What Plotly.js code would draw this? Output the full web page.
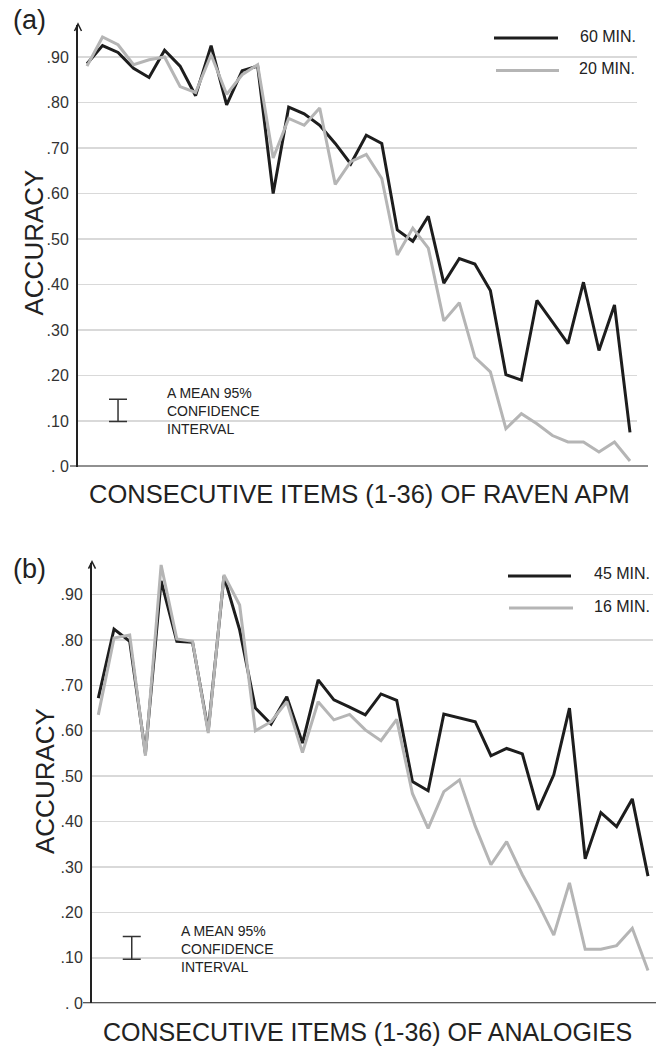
<!DOCTYPE html>
<html>
<head>
<meta charset="utf-8">
<script src="https://cdn.plot.ly/plotly-3.0.1.min.js"></script>
<style>html,body{margin:0;padding:0;background:#fff;}#chart{width:662px;height:1049px;}</style>
</head>
<body>
<div id="chart"></div>
<script>
// ---------- DATA ----------
const items = [1,2,3,4,5,6,7,8,9,10,11,12,13,14,15,16,17,18,19,20,21,22,23,24,25,26,27,28,29,30,31,32,33,34,35,36];

const ravenLabels = ["60 MIN.", "20 MIN."];
const raven60 = [0.885,0.925,0.91,0.875,0.855,0.915,0.88,0.815,0.925,0.795,0.87,0.88,0.60,0.79,0.775,0.75,0.71,0.665,0.728,0.71,0.52,0.495,0.55,0.403,0.457,0.445,0.387,0.202,0.19,0.365,0.318,0.27,0.405,0.255,0.355,0.075];
const raven20 = [0.88,0.944,0.927,0.883,0.894,0.90,0.835,0.822,0.905,0.818,0.861,0.883,0.678,0.765,0.75,0.788,0.62,0.67,0.686,0.633,0.465,0.524,0.48,0.32,0.36,0.24,0.208,0.083,0.116,0.094,0.068,0.054,0.054,0.032,0.054,0.012];

const analLabels = ["45 MIN.", "16 MIN."];
const anal45 = [0.672,0.824,0.797,0.55,0.93,0.797,0.795,0.60,0.94,0.822,0.65,0.615,0.675,0.573,0.712,0.668,0.652,0.635,0.681,0.667,0.488,0.468,0.637,0.628,0.62,0.545,0.561,0.549,0.426,0.503,0.65,0.318,0.42,0.389,0.45,0.28];
const anal16 = [0.635,0.804,0.811,0.545,0.965,0.802,0.797,0.595,0.943,0.877,0.60,0.62,0.664,0.552,0.664,0.624,0.636,0.602,0.578,0.625,0.462,0.385,0.466,0.492,0.39,0.305,0.356,0.283,0.22,0.15,0.265,0.119,0.119,0.127,0.165,0.072];

const tickVals = [0,0.1,0.2,0.3,0.4,0.5,0.6,0.7,0.8,0.9];
const tickText = [". 0",".10",".20",".30",".40",".50",".60",".70",".80",".90"];

// confidence-interval marker: [item position, low, high]
const ciRaven = [3.0, 0.099, 0.148];
const ciAnal = [3.13, 0.097, 0.147];
const ciText = "A MEAN 95%<br>CONFIDENCE<br>INTERVAL";

const yTitle = "ACCURACY";
const xTitleA = "CONSECUTIVE ITEMS (1-36) OF RAVEN APM";
const xTitleB = "CONSECUTIVE ITEMS (1-36) OF ANALOGIES";
const panelA = "(a)", panelB = "(b)";

// ---------- LAYOUT HELPERS ----------
const W = 662, H = 1049;
const PX = p => p / W;
const PY = p => 1 - p / H;

const BLACK = '#1d1d1d', GREY = '#b5b5b5', GRID = '#d9d9d9', AX = '#222';
const FONT = 'Liberation Sans, Arial, Helvetica, sans-serif';

function lineTrace(y, color, xa, ya) {
  return {x: items, y: y, xaxis: xa, yaxis: ya, mode: 'lines', hoverinfo: 'skip',
          line: {color: color, width: 3}};
}
function ciTrace(ci, xa, ya) {
  return {x: [ci[0]], y: [ci[1]], xaxis: xa, yaxis: ya, mode: 'markers', hoverinfo: 'skip',
          marker: {size: 1, color: 'rgba(0,0,0,0)'},
          error_y: {type: 'data', symmetric: false, array: [ci[2] - ci[1]], arrayminus: [0],
                    width: 9, thickness: 1.5, color: '#333'}};
}

const data = [
  lineTrace(raven60, BLACK, 'x', 'y'),
  lineTrace(raven20, GREY, 'x', 'y'),
  lineTrace(anal45, BLACK, 'x2', 'y2'),
  lineTrace(anal16, GREY, 'x2', 'y2'),
  ciTrace(ciRaven, 'x', 'y'),
  ciTrace(ciAnal, 'x2', 'y2')
];

function yAxis(dom, top, xa) {
  return {domain: dom, range: [0, top], anchor: xa, tickvals: tickVals, ticktext: tickText,
          showgrid: true, gridcolor: GRID, gridwidth: 1.5, zeroline: false,
          showline: true, linecolor: AX, linewidth: 2, ticks: '', ticklabelstandoff: 4,
          tickfont: {family: FONT, size: 16, color: '#333'}, fixedrange: true};
}
function xAxis(dom, rng, ya) {
  return {domain: dom, range: rng, anchor: ya, showgrid: false, zeroline: false,
          showline: false, showticklabels: false, ticks: '', fixedrange: true};
}

// panel geometry (pixels)
const A = {axX: 78, gridR: 637, first: 87, last: 630, y0: 466.5, y9: 57, tip: 25, xl: 70, xr: 648};
const B = {axX: 92, gridR: 653, first: 98.3, last: 648, y0: 1003.3, y9: 594.5, tip: 562.7, xl: 83, xr: 656};

function geom(P) {
  const step = (P.last - P.first) / 35;
  const xr = [1 - (P.first - P.axX) / step, 36 + (P.gridR - P.last) / step];
  const perUnit = (P.y0 - P.y9) / 0.9;
  const top = (P.y0 - P.tip) / perUnit;
  return {xdom: [PX(P.axX), PX(P.gridR)], xr: xr, ydom: [PY(P.y0), PY(P.tip)], top: top};
}
const gA = geom(A), gB = geom(B);

function arrow(P) {
  const x = P.axX, y = P.tip - 1;
  return {type: 'path', xref: 'paper', yref: 'paper', layer: 'above',
          path: `M ${PX(x-3.5)} ${PY(y+7)} L ${PX(x)} ${PY(y)} L ${PX(x+3.5)} ${PY(y+7)}`,
          line: {color: AX, width: 1.5}};
}
function xLine(P, ya) {
  return {type: 'line', xref: 'paper', yref: ya, x0: PX(P.xl), x1: PX(P.xr), y0: 0, y1: 0,
          layer: 'above', line: {color: AX, width: 2}};
}
function legLine(x0, x1, y, color) {
  return {type: 'line', xref: 'paper', yref: 'paper', x0: PX(x0), x1: PX(x1), y0: PY(y), y1: PY(y),
          line: {color: color, width: 3}};
}
function txt(text, x, y, size, opts) {
  return Object.assign({text: text, xref: 'paper', yref: 'paper', x: PX(x), y: PY(y),
          xanchor: 'center', yanchor: 'middle', showarrow: false,
          font: {family: FONT, size: size, color: '#222'}}, opts || {});
}

const layout = {
  width: W, height: H, margin: {l: 0, r: 0, t: 0, b: 0},
  paper_bgcolor: '#fff', plot_bgcolor: '#fff', showlegend: false,
  font: {family: FONT},
  xaxis: xAxis(gA.xdom, gA.xr, 'y'),
  yaxis: yAxis(gA.ydom, gA.top, 'x'),
  xaxis2: xAxis(gB.xdom, gB.xr, 'y2'),
  yaxis2: yAxis(gB.ydom, gB.top, 'x2'),
  shapes: [
    xLine(A, 'y'), xLine(B, 'y2'), arrow(A), arrow(B),
    legLine(494, 558, 38, BLACK), legLine(496, 559, 70.5, GREY),
    legLine(508, 571, 576, BLACK), legLine(509, 573, 608, GREY)
  ],
  annotations: [
    txt(panelA, 29, 20, 27),
    txt(panelB, 29, 569, 27),
    txt(yTitle, 33, 242.5, 26, {textangle: -90}),
    txt(yTitle, 45, 781, 26, {textangle: -90}),
    txt(xTitleA, 359.5, 494, 25.5),
    txt(xTitleB, 367, 1032, 25),
    txt(ravenLabels[0], 578, 37, 16, {xanchor: 'left'}),
    txt(ravenLabels[1], 577, 68.5, 16, {xanchor: 'left'}),
    txt(analLabels[0], 592, 573, 16, {xanchor: 'left'}),
    txt(analLabels[1], 592, 606, 16, {xanchor: 'left'}),
    txt(ciText, 165, 410.5, 14, {xanchor: 'left', align: 'left'}),
    txt(ciText, 179, 948.5, 14, {xanchor: 'left', align: 'left'})
  ]
};

Plotly.newPlot('chart', data, layout, {staticPlot: true, displayModeBar: false});
</script>
</body>
</html>
